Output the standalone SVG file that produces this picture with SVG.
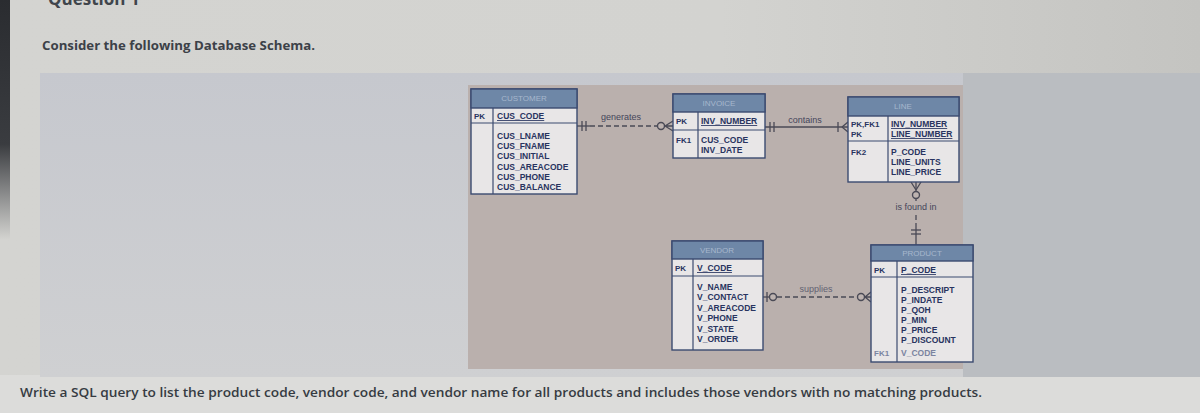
<svg xmlns="http://www.w3.org/2000/svg" width="1200" height="413" viewBox="0 0 1200 413">
<defs>
<linearGradient id="page" x1="0" y1="0" x2="1" y2="0">
<stop offset="0" stop-color="#d4d4d1"/>
<stop offset="0.6" stop-color="#d3d3d0"/>
<stop offset="1" stop-color="#c4c4c1"/>
</linearGradient>
<linearGradient id="strip" x1="0" y1="0" x2="0" y2="1">
<stop offset="0" stop-color="#2a2c30"/>
<stop offset="0.6" stop-color="#3a3c40"/>
<stop offset="1" stop-color="#3a3c40" stop-opacity="0"/>
</linearGradient>
<linearGradient id="panel" x1="0" y1="0" x2="0" y2="1">
<stop offset="0" stop-color="#c6c8ce"/>
<stop offset="1" stop-color="#cfd0d2"/>
</linearGradient>
<style>
.box{fill:#e8e6e7;stroke:#3b4a70;stroke-width:1.4}
.hdr{fill:#6e87a7;stroke:#3b4a70;stroke-width:1.4}
.div{stroke:#3b4a70;stroke-width:1.2;fill:none}
.ht{font-family:"Liberation Sans",Arial,sans-serif;font-size:8px;fill:#a7b7cd;text-anchor:middle}
.t{font-family:"Liberation Sans",Arial,sans-serif;font-size:8.5px;font-weight:bold;fill:#283460}
.k{font-family:"Liberation Sans",Arial,sans-serif;font-size:8px;font-weight:bold;fill:#283460}
.u{text-decoration:underline}
.g{fill:#7b84a0}
.rel{stroke:#4a4a56;stroke-width:1.3;fill:none}
.dash{stroke-dasharray:5 3}
.circ{fill:#bdb3b0;stroke:#4a4a56;stroke-width:1.4}
.lbl{font-family:"Liberation Sans",Arial,sans-serif;font-size:9px;fill:#45455a;text-anchor:middle}
</style>
</defs>
<rect x="0" y="0" width="1200" height="413" fill="url(#page)"/>
<rect x="0" y="375" width="1200" height="38" fill="#dcdcda"/>
<rect x="0" y="0" width="10" height="240" fill="url(#strip)"/>
<text x="48" y="5" font-family="'Open Sans','Liberation Sans',sans-serif" font-size="17" font-weight="bold" fill="#40454c">Question 1</text>
<text x="42" y="50" font-family="'Open Sans','Liberation Sans',sans-serif" font-size="12.5" font-weight="bold" fill="#3c4148" textLength="273" lengthAdjust="spacingAndGlyphs">Consider the following Database Schema.</text>
<rect x="40" y="73" width="1160" height="304" fill="url(#panel)"/>
<rect x="963" y="73" width="237" height="304" fill="#babdc1"/>
<rect x="468" y="85" width="495" height="284" fill="#bab0ad"/>
<text x="20" y="397" font-family="'Open Sans','Liberation Sans',sans-serif" font-size="13" font-weight="600" fill="#363b42" textLength="962" lengthAdjust="spacingAndGlyphs">Write a SQL query to list the product code, vendor code, and vendor name for all products and includes those vendors with no matching products.</text>

<g id="connectors">
<g id="generates">
<line class="rel" x1="577" y1="126" x2="590" y2="126"/>
<line class="rel dash" x1="590" y1="126" x2="657" y2="126"/>
<line class="rel" x1="582" y1="121" x2="582" y2="131"/>
<line class="rel" x1="586" y1="121" x2="586" y2="131"/>
<circle class="circ" cx="661" cy="126" r="3.5"/>
<path class="rel" d="M665 126 L673 126 M665 126 L673 121 M665 126 L673 131"/>
<text class="lbl" x="621" y="120">generates</text>
</g>
<g id="contains">
<line class="rel" x1="765" y1="127" x2="848" y2="127"/>
<line class="rel" x1="770" y1="122" x2="770" y2="132"/>
<line class="rel" x1="774" y1="122" x2="774" y2="132"/>
<line class="rel" x1="838" y1="122" x2="838" y2="132"/>
<path class="rel" d="M842 127 L848 122 M842 127 L848 132"/>
<text class="lbl" x="805" y="123">contains</text>
</g>
<g id="is-found-in">
<line class="rel" x1="916" y1="182" x2="916" y2="191"/>
<path class="rel" d="M916 190 L911 182 M916 190 L921 182"/>
<circle class="circ" cx="916" cy="195" r="3.5"/>
<line class="rel" x1="916" y1="199" x2="916" y2="201"/>
<text class="lbl" x="916" y="210">is found in</text>
<line class="rel dash" x1="916" y1="215" x2="916" y2="226"/>
<line class="rel" x1="916" y1="226" x2="916" y2="245"/>
<line class="rel" x1="911" y1="230" x2="921" y2="230"/>
<line class="rel" x1="911" y1="234" x2="921" y2="234"/>
</g>
<g id="supplies">
<line class="rel" x1="763" y1="297" x2="769" y2="297"/>
<line class="rel" x1="767" y1="292" x2="767" y2="302"/>
<circle class="circ" cx="773" cy="297" r="3.5"/>
<line class="rel dash" x1="777" y1="297" x2="857" y2="297"/>
<circle class="circ" cx="861" cy="297" r="3.5"/>
<path class="rel" d="M865 297 L871 297 M865 297 L871 292 M865 297 L871 302"/>
<text class="lbl" x="816" y="292" style="fill:#626272">supplies</text>
</g>
</g>

<g id="customer">
<rect class="box" x="471" y="89" width="106" height="105"/>
<rect class="hdr" x="471" y="89" width="106" height="19"/>
<text class="ht" x="524" y="101">CUSTOMER</text>
<line class="div" x1="471" y1="123" x2="577" y2="123"/>
<line class="div" x1="493" y1="108" x2="493" y2="194"/>
<text class="k" x="474" y="119">PK</text>
<text class="t u" x="497" y="119">CUS_CODE</text>
<text class="t" x="497" y="139">CUS_LNAME</text>
<text class="t" x="497" y="149.2">CUS_FNAME</text>
<text class="t" x="497" y="159.4">CUS_INITIAL</text>
<text class="t" x="497" y="169.6">CUS_AREACODE</text>
<text class="t" x="497" y="179.8">CUS_PHONE</text>
<text class="t" x="497" y="190">CUS_BALANCE</text>
</g>

<g id="invoice">
<rect class="box" x="673" y="94" width="92" height="64"/>
<rect class="hdr" x="673" y="94" width="92" height="18"/>
<text class="ht" x="719" y="106">INVOICE</text>
<line class="div" x1="673" y1="130" x2="765" y2="130"/>
<line class="div" x1="698" y1="112" x2="698" y2="158"/>
<text class="k" x="676" y="124">PK</text>
<text class="t u" x="701" y="124">INV_NUMBER</text>
<text class="k" x="676" y="143">FK1</text>
<text class="t" x="701" y="143">CUS_CODE</text>
<text class="t" x="701" y="153">INV_DATE</text>
</g>

<g id="line">
<rect class="box" x="848" y="97" width="111" height="85"/>
<rect class="hdr" x="848" y="97" width="111" height="19"/>
<text class="ht" x="903" y="109">LINE</text>
<line class="div" x1="848" y1="141" x2="959" y2="141"/>
<line class="div" x1="888" y1="116" x2="888" y2="182"/>
<text class="k" x="851" y="127">PK,FK1</text>
<text class="k" x="851" y="137">PK</text>
<text class="t u" x="891" y="127">INV_NUMBER</text>
<text class="t u" x="891" y="137">LINE_NUMBER</text>
<text class="k" x="851" y="155">FK2</text>
<text class="t" x="891" y="155">P_CODE</text>
<text class="t" x="891" y="165">LINE_UNITS</text>
<text class="t" x="891" y="175">LINE_PRICE</text>
</g>

<g id="vendor">
<rect class="box" x="672" y="241" width="91" height="109"/>
<rect class="hdr" x="672" y="241" width="91" height="18"/>
<text class="ht" x="717" y="253">VENDOR</text>
<line class="div" x1="672" y1="276" x2="763" y2="276"/>
<line class="div" x1="693" y1="259" x2="693" y2="350"/>
<text class="k" x="675" y="271">PK</text>
<text class="t u" x="697" y="271">V_CODE</text>
<text class="t" x="697" y="290">V_NAME</text>
<text class="t" x="697" y="300.4">V_CONTACT</text>
<text class="t" x="697" y="310.8">V_AREACODE</text>
<text class="t" x="697" y="321.2">V_PHONE</text>
<text class="t" x="697" y="331.6">V_STATE</text>
<text class="t" x="697" y="342">V_ORDER</text>
</g>

<g id="product">
<rect class="box" x="871" y="245" width="102" height="117"/>
<rect class="hdr" x="871" y="245" width="102" height="16"/>
<text class="ht" x="922" y="256">PRODUCT</text>
<line class="div" x1="871" y1="277" x2="973" y2="277"/>
<line class="div" x1="897" y1="261" x2="897" y2="362"/>
<text class="k" x="874" y="273">PK</text>
<text class="t u" x="901" y="273">P_CODE</text>
<text class="t" x="901" y="293">P_DESCRIPT</text>
<text class="t" x="901" y="303">P_INDATE</text>
<text class="t" x="901" y="313">P_QOH</text>
<text class="t" x="901" y="323">P_MIN</text>
<text class="t" x="901" y="333">P_PRICE</text>
<text class="t" x="901" y="343">P_DISCOUNT</text>
<text class="k g" x="874" y="356">FK1</text>
<text class="t g" x="901" y="356">V_CODE</text>
</g>
</svg>
